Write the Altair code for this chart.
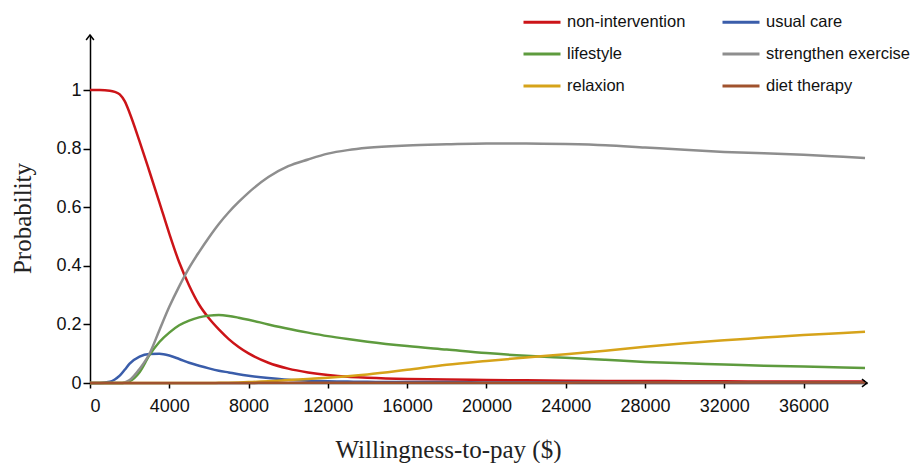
import altair as alt
import pandas as pd

# ---- data ----
wtp = [0, 500, 1000, 1250, 1500, 1750, 2000, 2500, 3000, 3500, 4000, 4500, 5000, 5500,
       6000, 6500, 7000, 7500, 8000, 9000, 10000, 11000, 12000, 13000, 14000, 16000,
       18000, 20000, 22000, 24000, 26000, 28000, 30000, 32000, 34000, 36000,
       38000, 39100]

non_intervention = [1.0, 1.0, 0.998, 0.994, 0.985, 0.962, 0.922, 0.825, 0.722, 0.617,
                    0.510, 0.412, 0.333, 0.268, 0.221, 0.183, 0.150, 0.123, 0.101,
                    0.069, 0.049, 0.036, 0.027, 0.021, 0.018, 0.014, 0.012, 0.010,
                    0.009, 0.008, 0.007, 0.007, 0.006, 0.006, 0.005, 0.005, 0.005, 0.005]
usual_care = [0.0, 0.0, 0.004, 0.012, 0.025, 0.045, 0.066, 0.090, 0.099, 0.100, 0.094,
              0.082, 0.069, 0.059, 0.050, 0.042, 0.036, 0.030, 0.025, 0.017, 0.011,
              0.008, 0.006, 0.005, 0.004, 0.003, 0.003, 0.002, 0.002, 0.002, 0.002,
              0.001, 0.001, 0.001, 0.001, 0.001, 0.001, 0.001]
lifestyle = [0.0, 0.0, 0.0, 0.0, 0.0, 0.001, 0.006, 0.037, 0.095, 0.140, 0.172, 0.197,
             0.213, 0.224, 0.230, 0.232, 0.229, 0.223, 0.216, 0.200, 0.185, 0.172,
             0.160, 0.150, 0.141, 0.126, 0.114, 0.102, 0.093, 0.086, 0.079, 0.072,
             0.067, 0.063, 0.059, 0.056, 0.053, 0.051]
strengthen_exercise = [0.0, 0.0, 0.0, 0.0, 0.0, 0.002, 0.010, 0.048, 0.100, 0.180,
                       0.260, 0.330, 0.393, 0.447, 0.497, 0.543, 0.583, 0.618, 0.650,
                       0.703, 0.740, 0.763, 0.783, 0.795, 0.803, 0.811, 0.815, 0.818,
                       0.818, 0.816, 0.812, 0.804, 0.796, 0.789, 0.784, 0.779, 0.772,
                       0.768]
relaxion = [0.0, 0.0, 0.0, 0.0, 0.0, 0.0, 0.0, 0.0, 0.0, 0.0, 0.0, 0.0, 0.0, 0.0, 0.0,
            0.0005, 0.001, 0.002, 0.003, 0.006, 0.010, 0.014, 0.018, 0.023, 0.029,
            0.045, 0.062, 0.075, 0.087, 0.098, 0.110, 0.124, 0.136, 0.146, 0.155,
            0.164, 0.171, 0.175]
diet_therapy = [0.0, 0.0, 0.0, 0.0, 0.0, 0.0, 0.0, 0.0, 0.0, 0.0, 0.0, 0.0, 0.0, 0.0,
                0.0, 0.0, 0.0, 0.0, 0.0, 0.001, 0.001, 0.001, 0.001, 0.001, 0.001,
                0.001, 0.001, 0.001, 0.001, 0.001, 0.002, 0.002, 0.002, 0.002, 0.002,
                0.002, 0.002, 0.002]

series_names = ["non-intervention", "usual care", "lifestyle",
                "strengthen exercise", "relaxion", "diet therapy"]
series_values = [non_intervention, usual_care, lifestyle,
                 strengthen_exercise, relaxion, diet_therapy]
series_colors = ["#CC1418", "#3A5DAA", "#5E9B3E", "#8E8E8E", "#D6A31A", "#A0522D"]

x_ticks = [0, 4000, 8000, 12000, 16000, 20000, 24000, 28000, 32000, 36000]
y_ticks = [0, 0.2, 0.4, 0.6, 0.8, 1]

X_MAX = 39200
Y_MAX = 1.188

rows = []
for name, vals in zip(series_names, series_values):
    for x, v in zip(wtp, vals):
        rows.append({"wtp": x, "prob": v, "strategy": name})
df = pd.DataFrame(rows)

x_scale = alt.Scale(domain=[0, X_MAX], nice=False, zero=False)
y_scale = alt.Scale(domain=[0, Y_MAX], nice=False)

lines = alt.Chart(df).mark_line(strokeWidth=2.5, interpolate="monotone").encode(
    x=alt.X("wtp:Q", scale=x_scale,
            axis=alt.Axis(values=x_ticks, format="d", title="Willingness-to-pay ($)",
                          tickSize=5, labelPadding=9, titleX=358, titleY=66,
                          titleBaseline="middle", titleAlign="center")),
    y=alt.Y("prob:Q", scale=y_scale,
            axis=alt.Axis(values=y_ticks, format="~g", title="Probability",
                          tickSize=7, labelPadding=2, titleX=-68, titleY=183,
                          titleAngle=-90, titleBaseline="middle", titleAlign="center")),
    color=alt.Color("strategy:N",
                    scale=alt.Scale(domain=series_names, range=series_colors),
                    legend=alt.Legend(title=None, orient="none", legendX=432, legendY=-33,
                                      columns=2, symbolType="stroke", symbolSize=1369,
                                      symbolStrokeWidth=3, labelFontSize=16.5,
                                      labelFont="Liberation Sans", labelColor="#111",
                                      columnPadding=30, rowPadding=3, labelOffset=5,
                                      labelLimit=300, direction="horizontal")),
    order=alt.Order("wtp:Q"),
)

arrow_df = pd.DataFrame({"wtp": [0, X_MAX], "prob": [Y_MAX, 0], "dir": ["up", "right"]})
arrow_up = alt.Chart(arrow_df[arrow_df["dir"] == "up"]).mark_point(
    shape="M-1,1.3L0,0L1,1.3", size=60, filled=False, stroke="#000", strokeWidth=1.5,
    opacity=1).encode(x=alt.X("wtp:Q", scale=x_scale), y=alt.Y("prob:Q", scale=y_scale))
arrow_right = alt.Chart(arrow_df[arrow_df["dir"] == "right"]).mark_point(
    shape="M-1.3,-1L0,0L-1.3,1", size=60, filled=False, stroke="#000", strokeWidth=1.5,
    opacity=1).encode(x=alt.X("wtp:Q", scale=x_scale), y=alt.Y("prob:Q", scale=y_scale))

chart = alt.layer(lines, arrow_up, arrow_right).properties(
    width=777, height=348,
    autosize=alt.AutoSizeParams(type="none"),
    padding={"left": 90, "top": 35, "right": 52, "bottom": 80},
    background="white",
).configure_view(stroke=None).configure_axis(
    grid=False, domainColor="#000", domainWidth=1.5, tickColor="#000", tickWidth=1.5,
    labelFont="Liberation Sans", labelFontSize=18, labelColor="#111",
    titleFont="Liberation Serif", titleFontSize=25, titleFontWeight="normal",
    titleColor="#222",
)

chart.save("out.html", embed_options={"renderer": "svg", "actions": False})
